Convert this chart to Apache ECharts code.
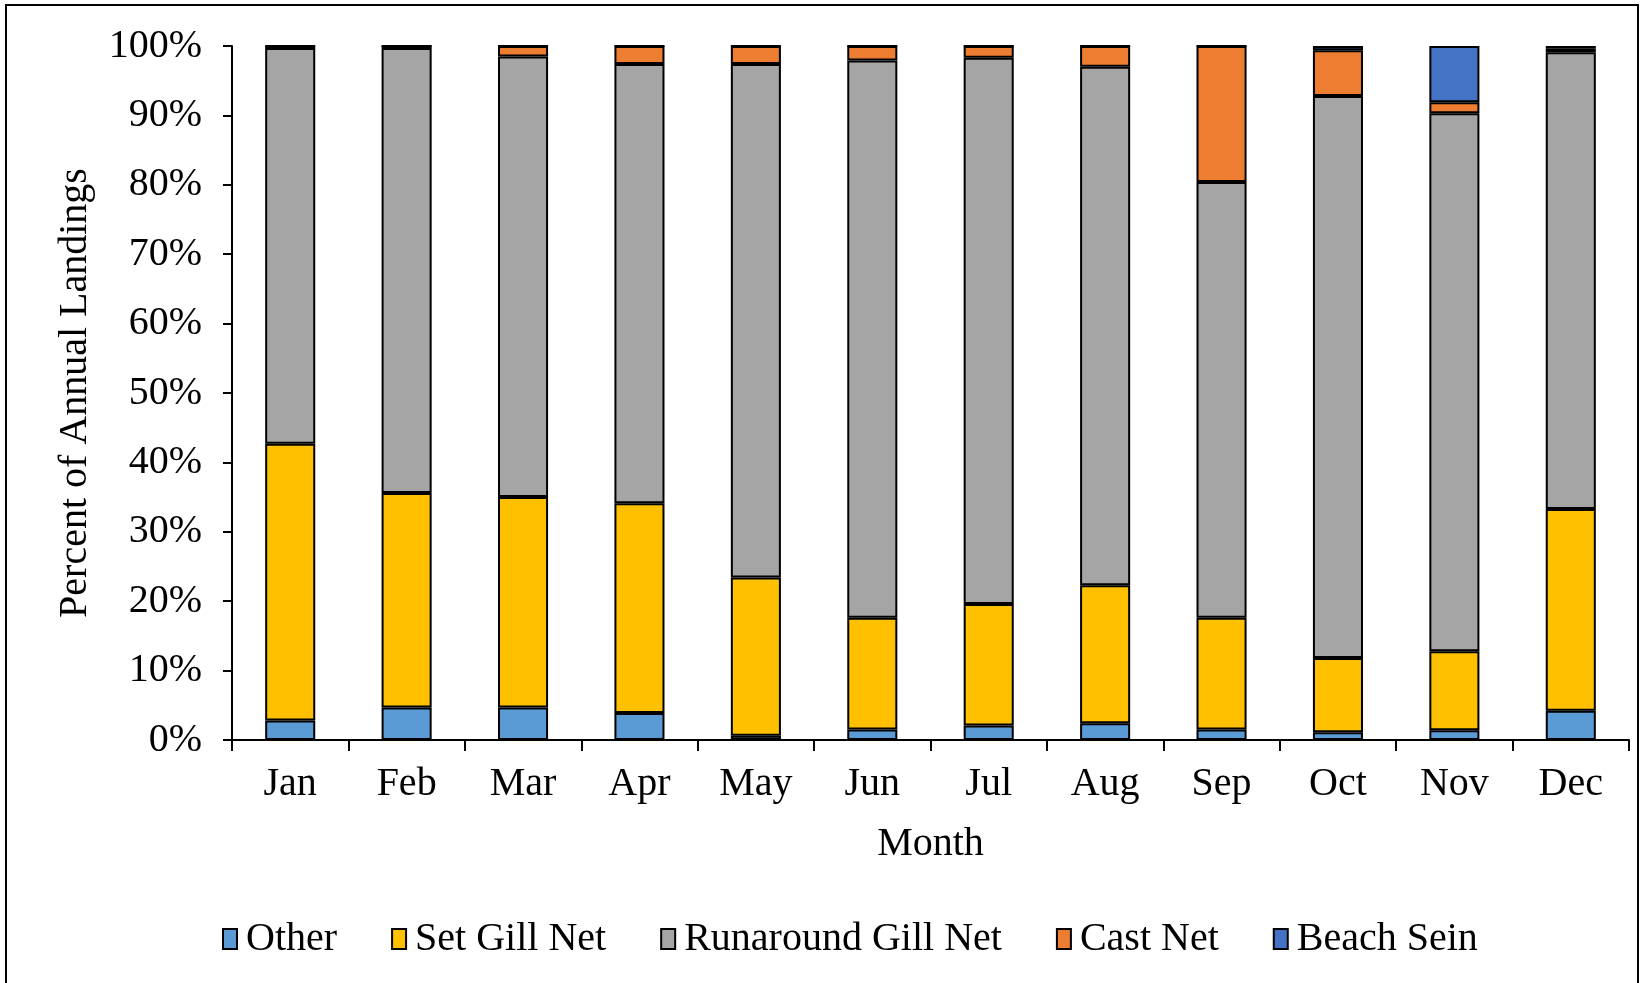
<!DOCTYPE html>
<html>
<head>
<meta charset="utf-8">
<script src="https://cdn.jsdelivr.net/npm/echarts@6/dist/echarts.min.js"></script>
<style>
  html, body { margin: 0; padding: 0; background: #fff; }
  #chart { width: 1642px; height: 983px; }
</style>
</head>
<body>
<div id="chart"></div>
<script>
const months = ['Jan', 'Feb', 'Mar', 'Apr', 'May', 'Jun', 'Jul', 'Aug', 'Sep', 'Oct', 'Nov', 'Dec']

// percent of annual landings per gear
const other      = [2.8, 4.7, 4.7, 3.9, 0.6, 1.5, 2.1, 2.4, 1.5, 1.1, 1.4, 4.2]
const setGill    = [39.9, 30.9, 30.3, 30.2, 22.8, 16.1, 17.5, 19.9, 16.1, 10.7, 11.4, 29.1]
const runaround  = [57.0, 64.1, 63.5, 63.3, 74.0, 80.3, 78.7, 74.7, 62.8, 81.0, 77.5, 65.8]
const castNet    = [0.3, 0.3, 1.5, 2.6, 2.6, 2.1, 1.7, 3.0, 19.6, 6.6, 1.6, 0.5]
const beachSein  = [0, 0, 0, 0, 0, 0, 0, 0, 0, 0.6, 8.1, 0.4]

const font = 'Liberation Serif'
const chart = echarts.init(document.getElementById('chart'))

const mkSeries = (name, data, color) => ({
  name,
  type: 'bar',
  stack: 'total',
  data,
  barWidth: '43%',
  itemStyle: {
    color,
    borderColor: '#000',
    borderWidth: 2
  }
})

const option = {
  backgroundColor: '#fff',
  animation: false,
  graphic: [
    {
      type: 'rect',
      shape: { x: 6, y: 5, width: 1632, height: 1000 },
      style: { fill: 'none', stroke: '#000', lineWidth: 2 }
    }
  ],
  grid: {
    left: 232,
    right: 13,
    top: 46,
    bottom: 243
  },
  legend: {
    bottom: 19,
    left: 217,
    itemWidth: 14,
    itemHeight: 20,
    itemGap: 54,
    icon: 'rect',
    itemStyle: { borderColor: '#000', borderWidth: 2 },
    textStyle: { fontFamily: font, fontSize: 40, color: '#000', padding: [0, 0, 0, 4] },
    data: ['Other', 'Set Gill Net', 'Runaround Gill Net', 'Cast Net', 'Beach Sein']
  },
  xAxis: {
    type: 'category',
    data: months,
    name: 'Month',
    nameLocation: 'middle',
    nameGap: 84,
    nameTextStyle: { fontFamily: font, fontSize: 40, color: '#000' },
    axisLine: { lineStyle: { color: '#000', width: 2 } },
    axisTick: { show: true, length: 11, lineStyle: { color: '#000', width: 2 } },
    axisLabel: { fontFamily: font, fontSize: 40, color: '#000', margin: 24 }
  },
  yAxis: {
    type: 'value',
    min: 0,
    max: 100,
    interval: 10,
    name: 'Percent of Annual Landings',
    nameLocation: 'middle',
    nameGap: 137,
    nameTextStyle: { fontFamily: font, fontSize: 40, color: '#000' },
    axisLine: { show: true, lineStyle: { color: '#000', width: 2 } },
    axisTick: { show: true, length: 9, lineStyle: { color: '#000', width: 2 } },
    axisLabel: { fontFamily: font, fontSize: 40, color: '#000', margin: 30, formatter: '{value}%' },
    splitLine: { show: false }
  },
  series: [
    mkSeries('Other', other, '#5B9BD5'),
    mkSeries('Set Gill Net', setGill, '#FFC000'),
    mkSeries('Runaround Gill Net', runaround, '#A5A5A5'),
    mkSeries('Cast Net', castNet, '#ED7D31'),
    mkSeries('Beach Sein', beachSein, '#4472C4')
  ]
}

chart.setOption(option)
</script>
</body>
</html>
